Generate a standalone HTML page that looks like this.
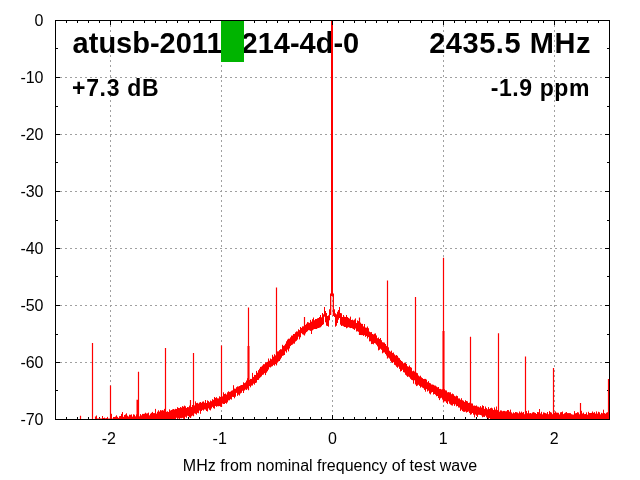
<!DOCTYPE html>
<html><head><meta charset="utf-8"><style>
html,body{margin:0;padding:0;background:#fff;}
svg{display:block;will-change:transform;}
text{font-family:"Liberation Sans",sans-serif;}
</style></head><body>
<svg width="640" height="480" viewBox="0 0 640 480">
<rect width="640" height="480" fill="#fff"/>
<path d="M55 77.5H609M55 134.5H609M55 191.5H609M55 248.5H609M55 305.5H609M55 362.5H609M110.5 20V419M221.5 20V419M332.5 20V419M443.5 20V419M554.5 20V419" stroke="#a0a0a0" stroke-width="1" stroke-dasharray="2 3" fill="none"/>
<g font-size="16" fill="#000"><text x="43.5" y="25.6" text-anchor="end">0</text><text x="43.5" y="82.6" text-anchor="end">-10</text><text x="43.5" y="139.6" text-anchor="end">-20</text><text x="43.5" y="196.6" text-anchor="end">-30</text><text x="43.5" y="253.6" text-anchor="end">-40</text><text x="43.5" y="310.6" text-anchor="end">-50</text><text x="43.5" y="367.6" text-anchor="end">-60</text><text x="43.5" y="424.6" text-anchor="end">-70</text><text x="108.9" y="444" text-anchor="middle">-2</text><text x="219.7" y="444" text-anchor="middle">-1</text><text x="332.5" y="444" text-anchor="middle">0</text><text x="443.3" y="444" text-anchor="middle">1</text><text x="554.1" y="444" text-anchor="middle">2</text><text x="330" y="471" text-anchor="middle">MHz from nominal frequency of test wave</text></g>
<path d="M55.5 20v3M55.5 420v-3M66.5 20v3M66.5 420v-3M77.5 20v3M77.5 420v-3M88.5 20v3M88.5 420v-3M99.5 20v3M99.5 420v-3M110.5 20v5M110.5 420v-5M121.5 20v3M121.5 420v-3M133.5 20v3M133.5 420v-3M144.5 20v3M144.5 420v-3M155.5 20v3M155.5 420v-3M166.5 20v3M166.5 420v-3M177.5 20v3M177.5 420v-3M188.5 20v3M188.5 420v-3M199.5 20v3M199.5 420v-3M210.5 20v3M210.5 420v-3M221.5 20v5M221.5 420v-5M232.5 20v3M232.5 420v-3M243.5 20v3M243.5 420v-3M254.5 20v3M254.5 420v-3M266.5 20v3M266.5 420v-3M277.5 20v3M277.5 420v-3M288.5 20v3M288.5 420v-3M299.5 20v3M299.5 420v-3M310.5 20v3M310.5 420v-3M321.5 20v3M321.5 420v-3M332.5 20v5M332.5 420v-5M343.5 20v3M343.5 420v-3M354.5 20v3M354.5 420v-3M365.5 20v3M365.5 420v-3M376.5 20v3M376.5 420v-3M387.5 20v3M387.5 420v-3M398.5 20v3M398.5 420v-3M410.5 20v3M410.5 420v-3M421.5 20v3M421.5 420v-3M432.5 20v3M432.5 420v-3M443.5 20v5M443.5 420v-5M454.5 20v3M454.5 420v-3M465.5 20v3M465.5 420v-3M476.5 20v3M476.5 420v-3M487.5 20v3M487.5 420v-3M498.5 20v3M498.5 420v-3M509.5 20v3M509.5 420v-3M520.5 20v3M520.5 420v-3M531.5 20v3M531.5 420v-3M543.5 20v3M543.5 420v-3M554.5 20v5M554.5 420v-5M565.5 20v3M565.5 420v-3M576.5 20v3M576.5 420v-3M587.5 20v3M587.5 420v-3M598.5 20v3M598.5 420v-3M609.5 20v3M609.5 420v-3M55 20.5h5M610 20.5h-5M55 48.5h3M610 48.5h-3M55 77.5h5M610 77.5h-5M55 106.5h3M610 106.5h-3M55 134.5h5M610 134.5h-5M55 162.5h3M610 162.5h-3M55 191.5h5M610 191.5h-5M55 220.5h3M610 220.5h-3M55 248.5h5M610 248.5h-5M55 276.5h3M610 276.5h-3M55 305.5h5M610 305.5h-5M55 334.5h3M610 334.5h-3M55 362.5h5M610 362.5h-5M55 390.5h3M610 390.5h-3M55 419.5h5M610 419.5h-5" stroke="#000" stroke-width="1" fill="none"/>
<rect x="55.5" y="20.5" width="554" height="399" fill="none" stroke="#000" stroke-width="1"/>
<g fill="#000">
<text x="72.6" y="52.5" font-size="29" font-weight="bold">atusb-20111<tspan dx="4.5">214-4d-0</tspan></text>
<text x="591" y="52.5" font-size="29" font-weight="bold" text-anchor="end" letter-spacing="0.55">2435.5 MHz</text>
<text x="72" y="96" font-size="23" font-weight="bold" letter-spacing="0.7">+7.3 dB</text>
<text x="590" y="96" font-size="23" font-weight="bold" text-anchor="end" letter-spacing="0.6">-1.9 ppm</text>
</g>
<path d="M95.5 418.4V419.0M96.5 415.5V419.0M97.5 418.5V419.0M98.5 418.5V419.0M99.5 417.7V419.0M100.5 418.4V419.0M101.5 418.5V419.0M102.5 416.0V419.0M103.5 418.0V419.0M104.5 417.6V419.0M105.5 418.3V419.0M106.5 418.1V419.0M107.5 416.9V419.0M108.5 418.5V419.0M109.5 418.5V419.0M110.5 417.1V419.0M111.5 413.8V419.0M112.5 418.5V419.0M113.5 417.0V419.0M114.5 417.0V419.0M115.5 416.5V419.0M116.5 415.3V419.0M117.5 416.8V419.0M118.5 417.9V419.0M119.5 416.2V419.0M120.5 416.0V419.0M121.5 413.9V419.0M122.5 412.0V419.0M123.5 416.8V419.0M124.5 415.0V419.0M125.5 414.4V419.0M126.5 413.3V419.0M127.5 415.7V419.0M128.5 416.5V419.0M129.5 414.7V419.0M130.5 414.8V419.0M131.5 414.4V419.0M132.5 416.6V419.0M133.5 414.3V419.0M134.5 414.7V419.0M135.5 416.3V419.0M136.5 414.4V419.0M137.5 414.5V419.0M138.5 413.4V419.0M139.5 416.3V419.0M140.5 414.1V419.0M141.5 415.3V419.0M142.5 413.9V419.0M143.5 413.9V419.0M144.5 413.7V419.0M145.5 412.7V419.0M146.5 413.5V419.0M147.5 413.3V419.0M148.5 412.6V419.0M149.5 415.3V419.0M150.5 413.7V419.0M151.5 412.8V419.0M152.5 411.9V419.0M153.5 413.1V419.0M154.5 413.1V419.0M155.5 408.9V419.0M156.5 413.6V419.0M157.5 411.7V419.0M158.5 410.3V419.0M159.5 411.6V419.0M160.5 410.1V419.0M161.5 410.5V419.0M162.5 410.1V419.0M163.5 410.5V419.0M164.5 408.9V419.0M165.5 411.5V419.0M166.5 411.8V419.0M167.5 411.3V419.0M168.5 412.0V419.0M169.5 409.3V419.0M170.5 410.5V419.0M171.5 410.0V419.0M172.5 409.4V419.0M173.5 409.0V419.0M174.5 409.5V419.0M175.5 408.8V419.0M176.5 409.0V417.8M177.5 407.2V419.0M178.5 407.9V418.4M179.5 408.1V419.0M180.5 407.0V418.2M181.5 407.6V418.3M182.5 406.1V417.9M183.5 406.7V418.8M184.5 405.6V419.0M185.5 406.3V416.8M186.5 408.0V417.8M187.5 407.0V415.8M188.5 407.2V416.3M189.5 405.6V417.2M190.5 407.3V416.6M191.5 407.0V416.3M192.5 405.0V415.5M193.5 405.2V415.0M194.5 405.4V413.4M195.5 401.4V413.8M196.5 403.1V414.6M197.5 402.8V412.9M198.5 403.6V413.3M199.5 402.5V410.6M200.5 402.0V413.8M201.5 402.8V411.0M202.5 401.7V409.9M203.5 401.4V410.6M204.5 402.7V409.4M205.5 400.0V409.6M206.5 403.0V411.0M207.5 400.4V411.5M208.5 401.1V408.4M209.5 402.2V409.8M210.5 400.5V410.4M211.5 401.2V408.5M212.5 399.2V406.9M213.5 399.8V408.2M214.5 397.0V408.7M215.5 397.9V406.0M216.5 397.2V406.8M217.5 398.3V406.2M218.5 398.4V406.3M219.5 396.3V406.1M220.5 396.9V406.7M221.5 396.4V404.9M222.5 396.4V403.6M223.5 392.3V404.0M224.5 394.0V404.0M225.5 393.5V403.0M226.5 394.5V403.7M227.5 392.3V402.4M228.5 391.3V400.4M229.5 391.9V400.3M230.5 391.6V399.2M231.5 390.7V399.6M232.5 390.3V396.9M233.5 385.2V397.0M234.5 388.6V398.3M235.5 388.7V396.7M236.5 387.2V392.9M237.5 386.4V395.9M238.5 386.5V394.7M239.5 386.0V395.5M240.5 385.4V393.5M241.5 385.0V392.8M242.5 384.9V390.8M243.5 382.3V393.0M244.5 383.1V390.5M245.5 382.4V389.5M246.5 380.5V390.0M247.5 378.2V388.7M248.5 376.6V388.4M249.5 380.0V386.0M250.5 378.9V387.3M251.5 378.9V385.6M252.5 372.9V385.5M253.5 376.9V383.7M254.5 374.9V384.7M255.5 375.0V383.0M256.5 370.9V382.6M257.5 372.7V380.0M258.5 370.2V379.9M259.5 368.7V378.3M260.5 366.9V377.3M261.5 366.6V376.4M262.5 365.5V374.9M263.5 364.2V374.6M264.5 364.2V373.2M265.5 362.4V375.1M266.5 362.3V372.7M267.5 361.8V371.3M268.5 358.5V369.6M269.5 360.7V367.2M270.5 358.5V367.5M271.5 359.2V366.6M272.5 354.8V366.2M273.5 356.6V364.9M274.5 354.2V365.7M275.5 355.4V364.1M276.5 353.7V365.4M277.5 351.4V362.7M278.5 351.3V361.5M279.5 350.1V361.0M280.5 349.2V359.4M281.5 349.3V357.7M282.5 344.8V355.9M283.5 345.9V355.5M284.5 345.3V355.0M285.5 343.7V351.3M286.5 341.3V352.6M287.5 339.6V349.6M288.5 338.7V351.4M289.5 338.7V348.5M290.5 337.3V346.1M291.5 335.6V345.1M292.5 335.5V344.6M293.5 334.0V343.6M294.5 333.9V343.7M295.5 332.3V341.6M296.5 331.4V340.8M297.5 331.5V339.6M298.5 329.3V336.7M299.5 330.1V339.4M300.5 327.0V337.3M301.5 327.9V333.2M302.5 326.4V334.3M303.5 326.3V334.7M304.5 325.4V333.6M305.5 324.9V333.5M306.5 323.7V332.1M307.5 322.1V331.3M308.5 322.4V330.2M309.5 322.9V330.3M310.5 319.9V330.9M311.5 321.6V334.0M312.5 319.2V330.4M313.5 317.5V329.5M314.5 320.2V329.0M315.5 319.0V329.0M316.5 319V329M317.5 318.3V328.3M318.5 318V328M319.5 317V327.7M320.5 315V327.3M321.5 317.3V326.3M322.5 313V325M323.5 314.3V324.3M324.5 307V316.7M325.5 311V322.3M326.5 313V325.7M327.5 316V326M328.5 315.3V326.7M329.5 309.3V320.3M334.5 309.3V317M335.5 313.3V326.7M336.5 314.3V325.7M337.5 311.7V323M338.5 310V319.7M339.5 307V318M340.5 313V324.7M341.5 313.3V326M342.5 317V325.7M343.5 315V326.3M344.5 316.7V327M345.5 317V327M346.5 315V328.3M347.5 317V327.7M348.5 317.9V327.2M349.5 318.6V327.7M350.5 316.6V328.1M351.5 320.0V328.0M352.5 319.6V328.5M353.5 320.3V329.1M354.5 319.6V330.0M355.5 318.4V328.6M356.5 323.0V331.5M357.5 320.4V331.3M358.5 321.1V331.8M359.5 322.0V333.0M360.5 322.6V335.0M361.5 323.8V335.1M362.5 323.9V335.1M363.5 326.4V335.9M364.5 324.0V335.2M365.5 327.5V336.9M366.5 327.7V336.1M367.5 326.5V338.5M368.5 328.2V337.1M369.5 331.6V341.4M370.5 332.2V341.3M371.5 332.1V344.1M372.5 334.0V343.9M373.5 334.4V344.3M374.5 333.7V343.1M375.5 333.4V343.6M376.5 335.4V344.8M377.5 338.2V346.4M378.5 337.5V350.4M379.5 339.0V349.8M380.5 338.0V348.8M381.5 340.2V349.8M382.5 342.2V353.3M383.5 342.4V352.5M384.5 342.6V352.5M385.5 344.0V354.1M386.5 345.9V355.6M387.5 347.1V358.2M388.5 347.3V357.6M389.5 350.7V358.6M390.5 351.6V360.8M391.5 350.6V362.1M392.5 352.9V363.0M393.5 352.5V362.2M394.5 354.4V364.8M395.5 355.5V365.4M396.5 355.0V366.8M397.5 355.8V367.8M398.5 357.6V366.7M399.5 358.2V368.9M400.5 359.9V371.5M401.5 361.0V371.0M402.5 361.7V369.8M403.5 363.3V372.2M404.5 362.7V372.6M405.5 362.8V374.8M406.5 363.9V375.7M407.5 366.2V376.9M408.5 366.7V376.5M409.5 365.5V377.3M410.5 367.1V378.8M411.5 367.7V379.8M412.5 371.2V380.2M413.5 370.7V383.7M414.5 371.5V380.3M415.5 371.7V382.9M416.5 372.7V386.1M417.5 373.2V385.6M418.5 375.5V384.8M419.5 376.4V385.9M420.5 375.7V387.7M421.5 377.3V386.8M422.5 378.1V387.7M423.5 379.0V388.3M424.5 378.9V389.9M425.5 378.9V391.7M426.5 379.6V389.1M427.5 382.2V391.5M428.5 381.1V390.7M429.5 382.9V393.5M430.5 383.3V394.4M431.5 384.5V392.6M432.5 384.5V392.0M433.5 384.8V394.5M434.5 385.5V394.0M435.5 385.6V394.8M436.5 386.5V396.3M437.5 387.3V396.0M438.5 387.0V398.1M439.5 388.9V400.1M440.5 388.9V398.4M441.5 389.4V397.8M442.5 389.2V399.6M443.5 390.9V400.8M444.5 389.2V401.3M445.5 390.3V401.4M446.5 390.5V402.9M447.5 392.3V404.1M448.5 392.1V401.4M449.5 392.4V403.7M450.5 392.3V404.6M451.5 394.2V405.3M452.5 393.5V405.6M453.5 394.2V404.1M454.5 395.8V405.9M455.5 396.4V404.4M456.5 395.6V406.4M457.5 396.1V406.0M458.5 398.4V407.5M459.5 398.4V407.6M460.5 399.7V410.9M461.5 398.2V409.7M462.5 400.2V411.1M463.5 400.7V411.8M464.5 401.9V411.9M465.5 400.2V411.5M466.5 401.0V412.6M467.5 401.4V412.0M468.5 403.0V411.5M469.5 402.6V413.0M470.5 404.9V412.8M471.5 403.4V414.2M472.5 403.5V413.0M473.5 405.7V414.7M474.5 405.5V417.4M475.5 405.9V414.6M476.5 405.4V415.7M477.5 406.5V417.0M478.5 406.7V414.8M479.5 407.4V414.8M480.5 406.1V415.0M481.5 407.5V415.5M482.5 405.3V417.3M483.5 406.0V416.8M484.5 408.9V417.0M485.5 406.5V415.7M486.5 408.1V417.4M487.5 409.3V417.9M488.5 407.1V419.0M489.5 408.9V418.1M490.5 408.1V419.0M491.5 407.7V419.0M492.5 408.4V419.0M493.5 410.0V419.0M494.5 407.4V419.0M495.5 409.6V419.0M496.5 406.5V419.0M497.5 410.1V419.0M498.5 411.6V419.0M499.5 411.7V419.0M500.5 410.4V419.0M501.5 410.5V419.0M502.5 411.3V419.0M503.5 410.9V419.0M504.5 410.9V419.0M505.5 411.3V419.0M506.5 411.2V419.0M507.5 410.0V419.0M508.5 410.1V419.0M509.5 411.6V419.0M510.5 409.6V419.0M511.5 412.4V419.0M512.5 413.5V419.0M513.5 412.3V419.0M514.5 413.1V419.0M515.5 412.0V419.0M516.5 412.2V419.0M517.5 412.5V419.0M518.5 413.3V419.0M519.5 411.5V419.0M520.5 412.7V419.0M521.5 411.6V419.0M522.5 412.7V419.0M523.5 412.0V419.0M524.5 414.2V419.0M525.5 410.8V419.0M526.5 411.0V419.0M527.5 413.2V419.0M528.5 410.5V419.0M529.5 413.3V419.0M530.5 413.0V419.0M531.5 413.5V419.0M532.5 412.5V419.0M533.5 412.1V419.0M534.5 412.5V419.0M535.5 413.0V419.0M536.5 414.0V419.0M537.5 412.0V419.0M538.5 412.2V419.0M539.5 409.0V419.0M540.5 413.5V419.0M541.5 411.8V419.0M542.5 414.3V419.0M543.5 412.4V419.0M544.5 412.7V419.0M545.5 413.1V419.0M546.5 413.6V419.0M547.5 412.0V419.0M548.5 414.2V419.0M549.5 411.1V419.0M550.5 412.1V419.0M551.5 412.6V419.0M552.5 414.2V419.0M553.5 412.3V419.0M554.5 412.7V419.0M555.5 411.4V419.0M556.5 412.6V419.0M557.5 412.7V419.0M558.5 412.8V419.0M559.5 414.4V419.0M560.5 412.3V419.0M561.5 412.1V419.0M562.5 411.5V419.0M563.5 414.1V419.0M564.5 413.3V419.0M565.5 412.6V419.0M566.5 412.0V419.0M567.5 413.1V419.0M568.5 413.1V419.0M569.5 413.1V419.0M570.5 413.2V419.0M571.5 414.2V419.0M572.5 414.5V419.0M573.5 414.6V419.0M574.5 411.1V419.0M575.5 413.3V419.0M576.5 413.0V419.0M577.5 412.2V419.0M578.5 412.5V419.0M579.5 414.3V419.0M580.5 414.5V419.0M581.5 410.8V419.0M582.5 413.5V419.0M583.5 412.6V419.0M584.5 414.1V419.0M585.5 414.0V419.0M586.5 412.4V419.0M587.5 414.7V419.0M588.5 411.8V419.0M589.5 413.0V419.0M590.5 413.0V419.0M591.5 412.9V419.0M592.5 411.5V419.0M593.5 412.8V419.0M594.5 412.1V419.0M595.5 413.6V419.0M596.5 411.4V419.0M597.5 413.6V419.0M598.5 411.8V419.0M599.5 412.3V419.0M600.5 414.3V419.0M601.5 412.8V419.0M602.5 413.3V419.0M603.5 409.7V419.0M604.5 413.1V419.0M605.5 413.7V419.0M606.5 412.7V419.0M607.5 412.2V419.0M608.5 412.0V419.0" stroke="#f00" stroke-width="1" fill="none"/>
<path d="M80.5 415.8V419M92.5 343V419M95.5 416.6V419M110.5 385.6V419M138.5 371.7V419M165.5 348V419M190.5 400V418.0M193.5 353V416.2M221.5 345.5V407.0M248.5 307.6V390.2M276.5 287.4V364.5M304.5 317V335.44M359.5 317.5V334.9M387.5 280.6V358.6M415.5 296.9V384.5M443.5 257.8V402.6M470.5 336.7V414.8M498.5 333.2V419M525.5 356.4V419M553.5 368V419M580.5 403V419M608.5 379V419" stroke="#f00" stroke-width="1.2" fill="none"/>
<path d="M137.5 399.7V416M248.5 346V385M443.5 331V392" stroke="#f00" stroke-width="2" fill="none"/>
<rect x="331" y="20" width="2" height="276" fill="#f00"/>
<path d="M330 293.5H334V316H332.7V296H331.3V315H330Z" fill="#f00"/>
<path d="M55 20.5H610" stroke="#000" stroke-width="1"/><path d="M55.5 20v3M66.5 20v3M77.5 20v3M88.5 20v3M99.5 20v3M110.5 20v5M121.5 20v3M133.5 20v3M144.5 20v3M155.5 20v3M166.5 20v3M177.5 20v3M188.5 20v3M199.5 20v3M210.5 20v3M221.5 20v5M232.5 20v3M243.5 20v3M254.5 20v3M266.5 20v3M277.5 20v3M288.5 20v3M299.5 20v3M310.5 20v3M321.5 20v3M332.5 20v5M343.5 20v3M354.5 20v3M365.5 20v3M376.5 20v3M387.5 20v3M398.5 20v3M410.5 20v3M421.5 20v3M432.5 20v3M443.5 20v5M454.5 20v3M465.5 20v3M476.5 20v3M487.5 20v3M498.5 20v3M509.5 20v3M520.5 20v3M531.5 20v3M543.5 20v3M554.5 20v5M565.5 20v3M576.5 20v3M587.5 20v3M598.5 20v3M609.5 20v3" stroke="#000" stroke-width="1" fill="none"/>
<rect x="221" y="21" width="23" height="41" fill="#00b400"/>
</svg>
</body></html>
